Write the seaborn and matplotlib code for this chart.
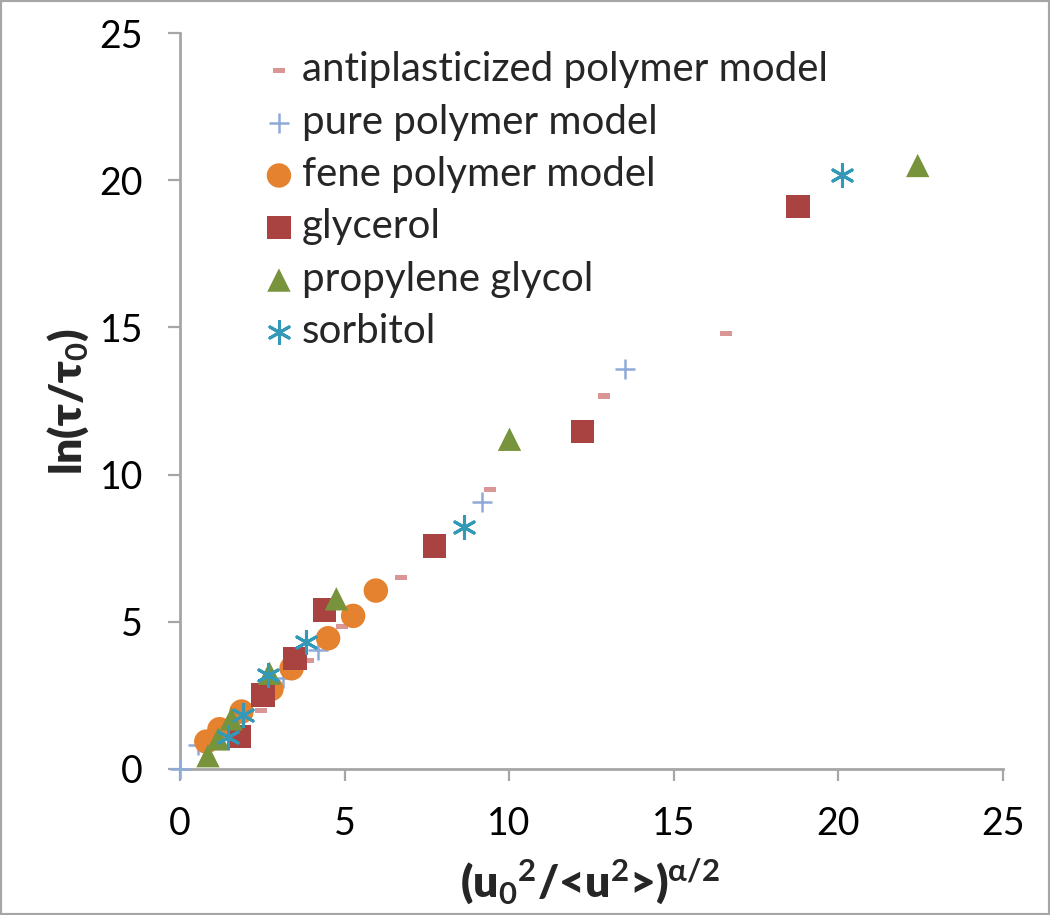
import matplotlib
matplotlib.use("Agg")
import matplotlib.pyplot as plt
import seaborn as sns
from matplotlib.patches import Rectangle

# values
anti_x = [2.47, 3.90, 4.91, 6.70, 9.42, 12.87, 16.60]
anti_y = [2.00, 3.70, 4.83, 6.52, 9.50, 12.67, 14.80]

pure_x = [0.00, 0.55, 3.13, 4.20, 9.17, 13.53]
pure_y = [0.00, 0.82, 3.08, 4.04, 9.08, 13.58]

fene_x = [0.80, 1.20, 1.87, 2.78, 3.39, 4.50, 5.26, 5.95]
fene_y = [0.93, 1.35, 1.95, 2.72, 3.42, 4.44, 5.20, 6.06]

glyc_x = [1.81, 2.52, 3.49, 4.40, 7.73, 12.23, 18.77]
glyc_y = [1.10, 2.51, 3.76, 5.40, 7.57, 11.47, 19.10]

prop_x = [0.85, 1.16, 1.56, 2.72, 4.75, 10.01, 22.41]
prop_y = [0.45, 1.02, 1.70, 3.25, 5.78, 11.20, 20.50]

sorb_x = [1.46, 1.92, 2.68, 3.84, 8.64, 20.10]
sorb_y = [1.10, 1.83, 3.19, 4.30, 8.23, 20.18]

labels = ["antiplasticized polymer model", "pure polymer model", "fene polymer model",
          "glycerol", "propylene glycol", "sorbitol"]

sns.set_theme(style="white")
plt.rcParams['font.family'] = ['Lato', 'DejaVu Sans']
plt.rcParams['mathtext.fontset'] = 'custom'
plt.rcParams['mathtext.rm'] = 'Lato'
plt.rcParams['mathtext.bf'] = 'Lato:bold'
plt.rcParams['mathtext.it'] = 'Lato:italic'
plt.rcParams['mathtext.fallback'] = 'stixsans'

fig = plt.figure(figsize=(10.5, 9.15), dpi=100)
ax = fig.add_axes([0.1714, 0.1596, 0.7838, 0.8043])

dash = [(-1, -0.42), (1, -0.42), (1, 0.42), (-1, 0.42), (-1, -0.42)]

# series: x, y, marker, color, size, linewidth, filled
series = [
    (anti_x, anti_y, dash, '#D99694', 74, 0, True),
    (pure_x, pure_y, '+', '#8EAAD8', 210, 1.8, False),
    (fene_x, fene_y, 'o', '#E5822F', 310, 0, True),
    (glyc_x, glyc_y, 's', '#A84341', 282, 0, True),
    (prop_x, prop_y, '^', '#77933C', 282, 0, True),
    (sorb_x, sorb_y, (6, 2, 0), '#3499B7', 250, 2.2, False),
]

for i, (xs, ys, mk, col, sz, lw, filled) in enumerate(series):
    kw = dict(edgecolor='none') if filled else {}
    sns.scatterplot(x=xs, y=ys, marker=mk, color=col, s=sz, linewidth=lw,
                    ax=ax, label=labels[i], clip_on=False, zorder=3 + i, **kw)

ax.set_xlim(0, 25)
ax.set_ylim(0, 25)
ax.set_xticks(range(0, 26, 5))
ax.set_yticks(range(0, 26, 5))

for side in ['top', 'right']:
    ax.spines[side].set_visible(False)
for side in ['left', 'bottom']:
    ax.spines[side].set_color('#A6A6A6')
    ax.spines[side].set_linewidth(2)
ax.tick_params(direction='out', length=8.6, width=1.6, color='#A6A6A6',
               labelsize=27, labelcolor='black', pad=18)
ax.tick_params(axis='both', which='both', left=True, bottom=True)

ax.set_xlabel(r"(u$_\mathbf{0}{}^\mathbf{2}$/<u$^\mathbf{2}$>)$^\mathbf{\alpha/2}$",
              fontsize=32, fontweight='heavy')
ax.set_ylabel(r"ln(τ/τ$_\mathbf{0}$)", fontsize=32, fontweight='heavy')
ax.xaxis.set_label_coords(0.498, -0.118)
ax.yaxis.set_label_coords(-0.108, 0.5)

ax.legend(loc='upper left', bbox_to_anchor=(0.097, 0.975), frameon=False,
          fontsize=29, handlelength=0.95, handletextpad=0.1, labelspacing=0.38,
          borderaxespad=0, borderpad=0)

fig.patches.append(Rectangle((0, 0), 1, 1, transform=fig.transFigure, fill=False,
                             edgecolor='#A6A6A6', linewidth=3))

fig.savefig("out.png", dpi=100)
